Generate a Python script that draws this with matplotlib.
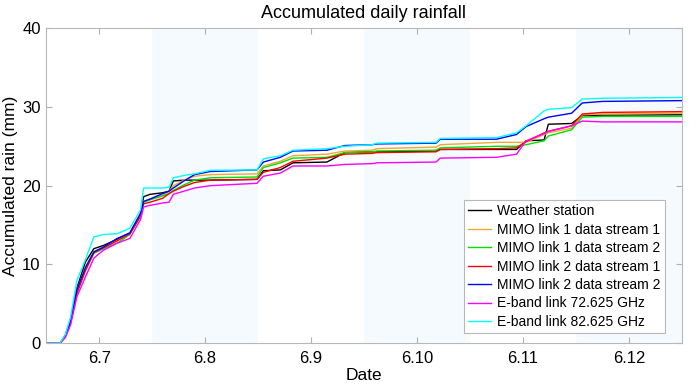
import numpy as np
import matplotlib
matplotlib.use("Agg")
import matplotlib.pyplot as plt

plt.rcParams['font.family'] = ['Liberation Sans', 'DejaVu Sans']

# time in days of June (6.7 -> 7.0)
t = [6.50, 6.63, 6.68, 6.73, 6.79, 6.87, 6.95, 7.04, 7.17, 7.29, 7.39, 7.42, 7.48,
     7.60, 7.66, 7.70, 7.80, 7.90, 8.05, 8.49, 8.55, 8.71, 8.83, 9.15, 9.32, 9.58,
     9.62, 10.18, 10.22, 10.75, 10.94, 11.03, 11.20, 11.24, 11.46, 11.56, 11.75, 12.50]

weather = [0, 0, 1.0, 3.0, 7.0, 10.3, 12.0, 12.4, 13.2, 14.0, 16.3, 18.6, 18.9,
           19.1, 19.3, 20.6, 20.7, 20.7, 20.7, 20.8, 21.9, 22.0, 22.9, 23.0, 24.2, 24.3,
           24.3, 24.4, 24.6, 24.6, 24.6, 25.7, 25.8, 27.8, 27.9, 28.9, 28.95, 29.0]
mimo1_s1 = [0, 0, 0.9, 2.8, 6.8, 9.6, 11.6, 12.1, 13.0, 14.0, 16.3, 18.0, 18.3,
            18.8, 19.3, 20.0, 20.7, 21.2, 21.4, 21.5, 22.5, 23.1, 23.8, 24.0, 24.4, 24.5,
            24.7, 24.9, 25.2, 25.5, 25.5, 25.5, 26.5, 26.7, 27.3, 29.0, 29.1, 29.2]
mimo1_s2 = [0, 0, 0.8, 2.6, 6.5, 9.3, 11.4, 12.0, 12.7, 13.8, 16.2, 17.9, 18.2,
            18.7, 19.0, 19.4, 20.1, 20.7, 21.0, 21.1, 22.3, 22.9, 23.5, 23.6, 24.2, 24.3,
            24.4, 24.5, 24.8, 25.0, 25.0, 25.2, 25.7, 26.3, 27.1, 28.7, 28.8, 28.8]
mimo2_s1 = [0, 0, 0.8, 2.6, 6.3, 9.2, 11.5, 12.1, 13.0, 13.9, 16.1, 17.7, 17.9,
            18.4, 19.0, 19.3, 19.9, 20.4, 20.7, 20.8, 21.7, 22.3, 23.1, 23.5, 24.0, 24.1,
            24.2, 24.3, 24.6, 24.7, 24.8, 25.6, 26.7, 26.9, 27.6, 29.1, 29.3, 29.4]
mimo2_s2 = [0, 0, 0.9, 2.8, 6.8, 9.6, 11.6, 12.2, 13.3, 14.0, 16.5, 18.0, 18.3,
            19.0, 19.3, 19.7, 20.6, 21.4, 21.8, 22.0, 23.0, 23.6, 24.4, 24.5, 25.1, 25.2,
            25.3, 25.4, 25.9, 25.9, 26.5, 27.5, 28.5, 28.7, 29.2, 30.5, 30.7, 30.8]
eband_72 = [0, 0, 0.7, 2.3, 5.9, 8.4, 10.8, 11.8, 12.7, 13.3, 15.7, 17.3, 17.5,
            17.8, 17.9, 18.9, 19.3, 19.7, 20.0, 20.3, 21.2, 21.6, 22.5, 22.5, 22.7, 22.8,
            22.9, 23.0, 23.5, 23.6, 24.0, 25.7, 26.6, 26.9, 27.6, 28.2, 28.1, 28.1]
eband_82 = [0, 0, 1.1, 3.3, 8.0, 10.6, 13.5, 13.8, 13.9, 14.6, 16.9, 19.7, 19.7,
            19.7, 19.8, 21.0, 21.3, 21.5, 21.95, 22.0, 23.4, 23.8, 24.5, 24.7, 25.0, 25.2,
            25.4, 25.5, 26.0, 26.1, 26.7, 27.6, 29.5, 29.7, 29.9, 31.0, 31.1, 31.2]

labels = ['Weather station', 'MIMO link 1 data stream 1', 'MIMO link 1 data stream 2',
          'MIMO link 2 data stream 1', 'MIMO link 2 data stream 2',
          'E-band link 72.625 GHz', 'E-band link 82.625 GHz']
series = [weather, mimo1_s1, mimo1_s2, mimo2_s1, mimo2_s2, eband_72, eband_82]
colors = ['#000000', '#f0a830', '#00e000', '#ff0000', '#0000ff', '#ff00ff', '#00ffff']

day_ticks = [7, 8, 9, 10, 11, 12]
day_labels = ['6.7', '6.8', '6.9', '6.10', '6.11', '6.12']
shade_bands = [(7.5, 8.5), (9.5, 10.5), (11.5, 12.5)]

fig = plt.figure(figsize=(7, 3.86), dpi=100)
ax = fig.add_axes([0.066, 0.111, 0.908, 0.816])

for a, b in shade_bands:
    ax.axvspan(a, b, color='#f5fafe', lw=0, zorder=0)

for y, c, lab in zip(series, colors, labels):
    ax.plot(t, y, color=c, lw=1.0, label=lab)

ax.set_xlim(6.5, 12.5)
ax.set_ylim(0, 40)
ax.set_xticks(day_ticks)
ax.set_xticklabels(day_labels)
ax.set_yticks([0, 10, 20, 30, 40])
ax.tick_params(direction='in', top=True, right=True, labelsize=12, color='#b0b0b0',
               length=4, width=0.8)
ax.tick_params(axis='y', pad=4)
ax.tick_params(axis='x', pad=6)
for s in ax.spines.values():
    s.set_color('#b8b8b8')
    s.set_linewidth(0.8)

ax.set_title('Accumulated daily rainfall', fontsize=13, pad=7)
ax.set_xlabel('Date', fontsize=12.5, labelpad=1)
ax.set_ylabel('Accumulated rain (mm)', fontsize=12.5, labelpad=3)

leg = ax.legend(loc='lower right', bbox_to_anchor=(0.973, 0.032), borderaxespad=0,
                fontsize=10, handlelength=1.7, handletextpad=0.4,
                labelspacing=0.32, borderpad=0.3, fancybox=False, framealpha=1,
                edgecolor='#b8b8b8')
leg.get_frame().set_linewidth(0.8)

fig.savefig('out.png', dpi=100)
